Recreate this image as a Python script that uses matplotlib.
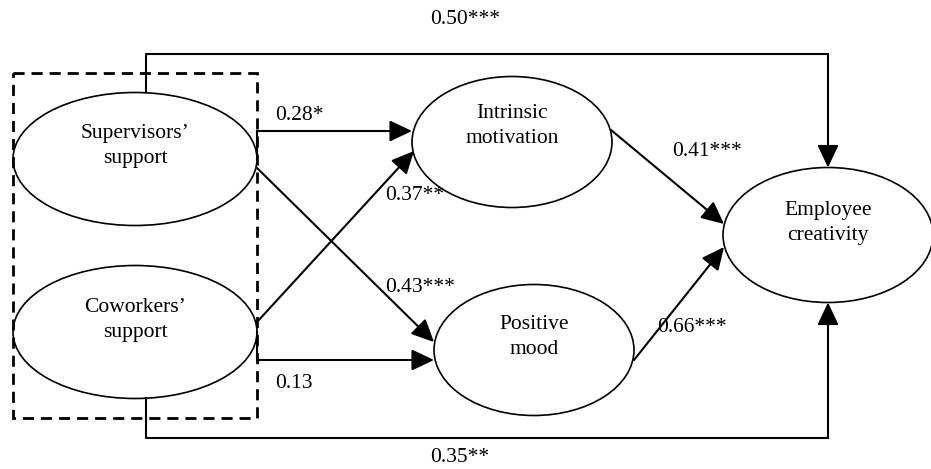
import matplotlib.pyplot as plt
from matplotlib.patches import Ellipse, Rectangle

plt.rcParams['font.family'] = ['Liberation Serif', 'DejaVu Serif']

# 节点名称
node_names = ['Supervisors’\nsupport', 'Coworkers’\nsupport', 'Intrinsic\nmotivation',
              'Positive\nmood', 'Employee\ncreativity']
# 路径系数
path_from = [0, 1, 0, 1, 2, 3, 0, 1]
path_to = [2, 2, 3, 3, 4, 4, 4, 4]
path_coef = ['0.28*', '0.37**', '0.43***', '0.13', '0.41***', '0.66***', '0.50***', '0.35**']

# 布局 (像素坐标)
node_xy = [(135, 159), (135, 332), (512, 142), (534, 350), (828, 235)]
node_wh = [(244, 133), (244, 133), (200, 131), (200, 131), (210, 135)]
text_dy = [-13, -12, -16, -13, -12]
label_xy = [(275, 116), (385, 195), (385, 287), (275, 383), (672, 152), (657, 327), (430, 19), (430, 458)]

fig = plt.figure(figsize=(9.31, 4.69), dpi=100)
ax = fig.add_axes([0, 0, 1, 1])
ax.set_xlim(0, 931)
ax.set_ylim(469, 0)
ax.axis('off')

fs = 15.5
lw = 1.5
arrow = dict(arrowstyle='-|>,head_length=0.55,head_width=0.26', mutation_scale=25,
             lw=lw, color='black', shrinkA=0, shrinkB=0)

for name, (x, y), (w, h), dy in zip(node_names, node_xy, node_wh, text_dy):
    ax.add_patch(Ellipse((x, y), w, h, fill=False, ec='black', lw=1.2, zorder=2))
    ax.text(x, y + dy, name, ha='center', va='center', fontsize=fs, linespacing=1.4, zorder=3)


def edge(x, y, w, h, side):
    # 椭圆上的点
    if side == 'r':
        return x + w / 2, y
    if side == 'l':
        return x - w / 2, y
    if side == 't':
        return x, y - h / 2
    return x, y + h / 2


def node_edge(i, side):
    return edge(*node_xy[i], *node_wh[i], side)


sup_r = node_edge(0, 'r')
cow_r = node_edge(1, 'r')

# 0.28*  折线
ax.plot([sup_r[0], sup_r[0]], [sup_r[1], 131], color='black', lw=lw)
ax.annotate('', xy=(node_edge(2, 'l')[0], 131), xytext=(sup_r[0], 131), arrowprops=arrow)
# 0.37**
ax.annotate('', xy=(414, 151), xytext=(257, 322), arrowprops=arrow)
# 0.43***
ax.annotate('', xy=(434, 342), xytext=(257, 168), arrowprops=arrow)
# 0.13  折线
ax.plot([cow_r[0], cow_r[0]], [cow_r[1], 360], color='black', lw=lw)
ax.annotate('', xy=(node_edge(3, 'l')[0], 360), xytext=(cow_r[0], 360), arrowprops=arrow)
# 0.41***
ax.annotate('', xy=(724, 224), xytext=(611, 130), arrowprops=arrow)
# 0.66***
ax.annotate('', xy=(724, 247), xytext=(634, 360), arrowprops=arrow)

# 0.50*** 上方
emp_t = node_edge(4, 't')
emp_b = node_edge(4, 'b')
top_y, bot_y = 54, 438
ax.plot([146, 146, emp_t[0]], [node_edge(0, 't')[1], top_y, top_y], color='black', lw=lw)
ax.annotate('', xy=emp_t, xytext=(emp_t[0], top_y), arrowprops=arrow)
# 0.35** 下方
ax.plot([146, 146, emp_b[0]], [node_edge(1, 'b')[1], bot_y, bot_y], color='black', lw=lw)
ax.annotate('', xy=emp_b, xytext=(emp_b[0], bot_y), arrowprops=arrow)

for lab, (x, y) in zip(path_coef, label_xy):
    ax.text(x, y, lab, ha='left', va='center', fontsize=fs)

# 虚线框
ax.add_patch(Rectangle((13, 73), 244, 345, fill=False, ec='black', lw=2,
                       linestyle=(0, (4, 2.5)), zorder=4))

plt.savefig('out.png', dpi=100)
